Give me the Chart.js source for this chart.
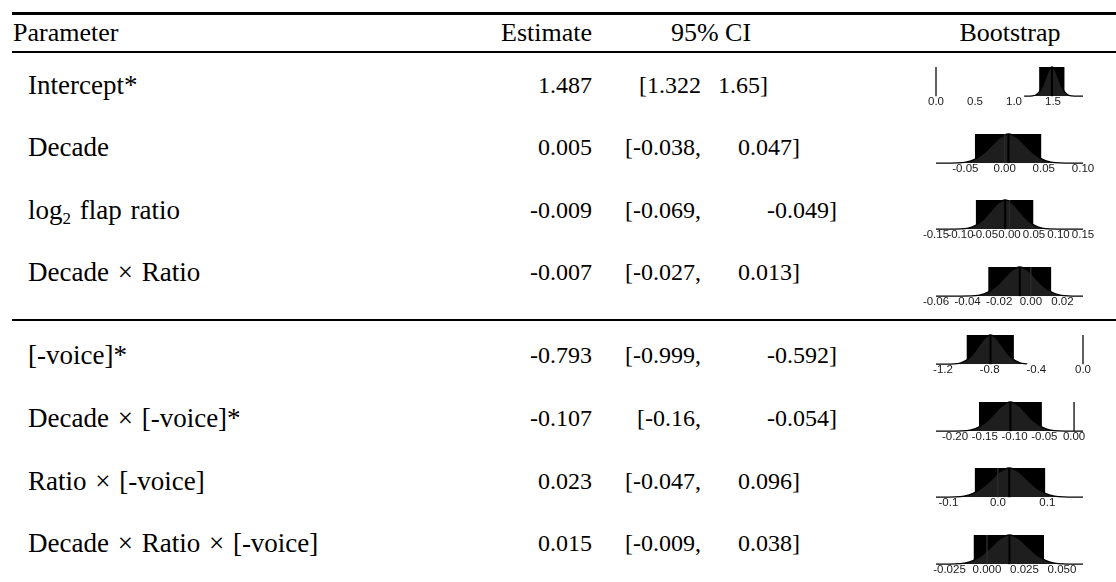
<!DOCTYPE html>
<html>
<head>
<meta charset="utf-8">
<script src="https://cdn.jsdelivr.net/npm/chart.js"></script>
<style>
body{margin:0;background:#fff;width:1116px;height:582px;position:relative;overflow:hidden;
  font-family:"Liberation Serif","Times New Roman",serif;font-size:24px;color:#000}
.t{position:absolute;height:30px;line-height:30px;white-space:nowrap}
.lab{font-size:27px;word-spacing:2px}
.hd{font-size:26px}
.rule{position:absolute;left:12px;right:0;background:#000}
.panel{position:absolute;left:900px;width:216px;height:47px}
sub{font-size:17px;line-height:0;vertical-align:-5px}
</style>
</head>
<body>
<div class="rule" style="top:12px;height:3px"></div>
<div class="rule" style="top:51px;height:2px"></div>
<div class="rule" style="top:319px;height:2px"></div>
<div id="table"></div>

<script>
const headers = ['Parameter','Estimate','95% CI','Bootstrap'];
const params = ['Intercept*','Decade','log<sub>2</sub> flap ratio','Decade × Ratio',
  '[-voice]*','Decade × [-voice]*','Ratio × [-voice]','Decade × Ratio × [-voice]'];
const estimates = [1.487, 0.005, -0.009, -0.007, -0.793, -0.107, 0.023, 0.015];
const estimateLabels = ['1.487','0.005','-0.009','-0.007','-0.793','-0.107','0.023','0.015'];
const ciLeftLabels = ['[1.322','[-0.038,','[-0.069,','[-0.027,','[-0.999,','[-0.16,','[-0.047,','[-0.009,'];
const ciRightLabels = ['1.65]','0.047]','-0.049]','0.013]','-0.592]','-0.054]','0.096]','0.038]'];
const ciLow = [1.322, -0.038, -0.069, -0.027, -0.999, -0.16, -0.047, -0.009];
const ciHigh = [1.65, 0.047, 0.049, 0.013, -0.592, -0.054, 0.096, 0.038];
const bootMin = [1.13, -0.0875, -0.15, -0.06, -1.26, -0.232, -0.125, -0.034];
const bootMax = [1.885, 0.10, 0.15, 0.033, -0.48, 0.015, 0.172, 0.064];
const tickValues = [
  [0, 0.5, 1, 1.5],
  [-0.05, 0, 0.05, 0.1],
  [-0.15, -0.1, -0.05, 0, 0.05, 0.1, 0.15],
  [-0.06, -0.04, -0.02, 0, 0.02],
  [-1.2, -0.8, -0.4, 0],
  [-0.2, -0.15, -0.1, -0.05, 0],
  [-0.1, 0, 0.1],
  [-0.025, 0, 0.025, 0.05]
];
const tickLabels = [
  ['0.0','0.5','1.0','1.5'],
  ['-0.05','0.00','0.05','0.10'],
  ['-0.15','-0.10','-0.05','0.00','0.05','0.10','0.15'],
  ['-0.06','-0.04','-0.02','0.00','0.02'],
  ['-1.2','-0.8','-0.4','0.0'],
  ['-0.20','-0.15','-0.10','-0.05','0.00'],
  ['-0.1','0.0','0.1'],
  ['-0.025','0.000','0.025','0.050']
];
// density shape of the bootstrap draws (in standard errors from the estimate)
const densOffsets = [-3, -2.5, -2, -1.5, -1, -0.5, 0, 0.5, 1, 1.5, 2, 2.5, 3];
const densHeights = [0.01, 0.04, 0.13, 0.32, 0.6, 0.88, 1, 0.88, 0.6, 0.32, 0.13, 0.04, 0.01];

// layout
const rowY = [85, 147, 210, 272, 355, 418, 481, 543];
const panelTop = [67, 134, 200, 267, 335, 402, 468, 535];
const ciRightX = [718, 738, 767, 738, 767, 767, 738, 738];

const tbl = document.getElementById('table');
function txt(html, css, cls){
  const d = document.createElement('div'); d.className = 't' + (cls ? ' ' + cls : '');
  d.innerHTML = html; Object.assign(d.style, css); tbl.appendChild(d); return d;
}
txt(headers[0], {left:'13px', top:'18px'}, 'hd');
txt(headers[1], {right:(1116-592)+'px', top:'18px'}, 'hd');
txt(headers[2], {left:'611px', width:'200px', textAlign:'center', top:'18px'}, 'hd');
txt(headers[3], {left:'910px', width:'200px', textAlign:'center', top:'18px'}, 'hd');

params.forEach((p, i) => {
  const top = (rowY[i] - 15) + 'px';
  txt(p, {left:'28px', top}, 'lab');
  txt(estimateLabels[i], {right:(1116-592)+'px', top});
  txt(ciLeftLabels[i], {right:(1116-701)+'px', top});
  txt(ciRightLabels[i], {left:ciRightX[i]+'px', top});

  const cv = document.createElement('canvas');
  cv.className = 'panel'; cv.width = 216; cv.height = 47;
  cv.style.top = (panelTop[i] - 2) + 'px';
  tbl.appendChild(cv);

  const se = (ciHigh[i] - ciLow[i]) / 3.92;
  const dens = [{x:bootMin[i], y:0}]
    .concat(densOffsets.map((o, k) => ({x: estimates[i] + o*se, y: densHeights[k]})))
    .concat([{x:bootMax[i], y:0}]);
  const line = (v, color, w, ord) => ({data:[{x:v,y:0},{x:v,y:1}], borderColor:color,
    borderWidth:w, pointRadius:0, fill:false, clip:false, order:ord});

  new Chart(cv.getContext('2d'), {
    type:'line',
    data:{datasets:[
      line(estimates[i], '#000', 2, 1),
      line(0, '#2a2a2a', 1.5, 1),
      {data:dens, borderColor:'#000', borderWidth:1.3, backgroundColor:'#1e1e1e',
       fill:'origin', pointRadius:0, tension:0.3, clip:false, order:2},
      {data:[{x:ciLow[i],y:0},{x:ciLow[i],y:1},{x:ciHigh[i],y:1},{x:ciHigh[i],y:0}],
       borderWidth:0, backgroundColor:'#000', fill:'origin', pointRadius:0, order:3}
    ]},
    options:{
      responsive:false, animation:false, events:[],
      layout:{padding:{left:36, right:33, top:2, bottom:4}},
      plugins:{legend:{display:false}, tooltip:{enabled:false}},
      scales:{
        x:{type:'linear', min:Math.min(bootMin[i],0), max:Math.max(bootMax[i],0),
           grid:{display:false, drawTicks:false, tickLength:0}, border:{display:false},
           afterBuildTicks: s => { s.ticks = tickValues[i].map(v => ({value:v})); },
           ticks:{autoSkip:false, maxRotation:0, minRotation:0, padding:-1, color:'#1a1a1a',
             font:{family:'"Liberation Sans", Arial, sans-serif', size:11.5},
             callback:(v, idx) => tickLabels[i][idx]}},
        y:{display:false, min:0, max:1}
      }
    }
  });
});
</script>
</body>
</html>
